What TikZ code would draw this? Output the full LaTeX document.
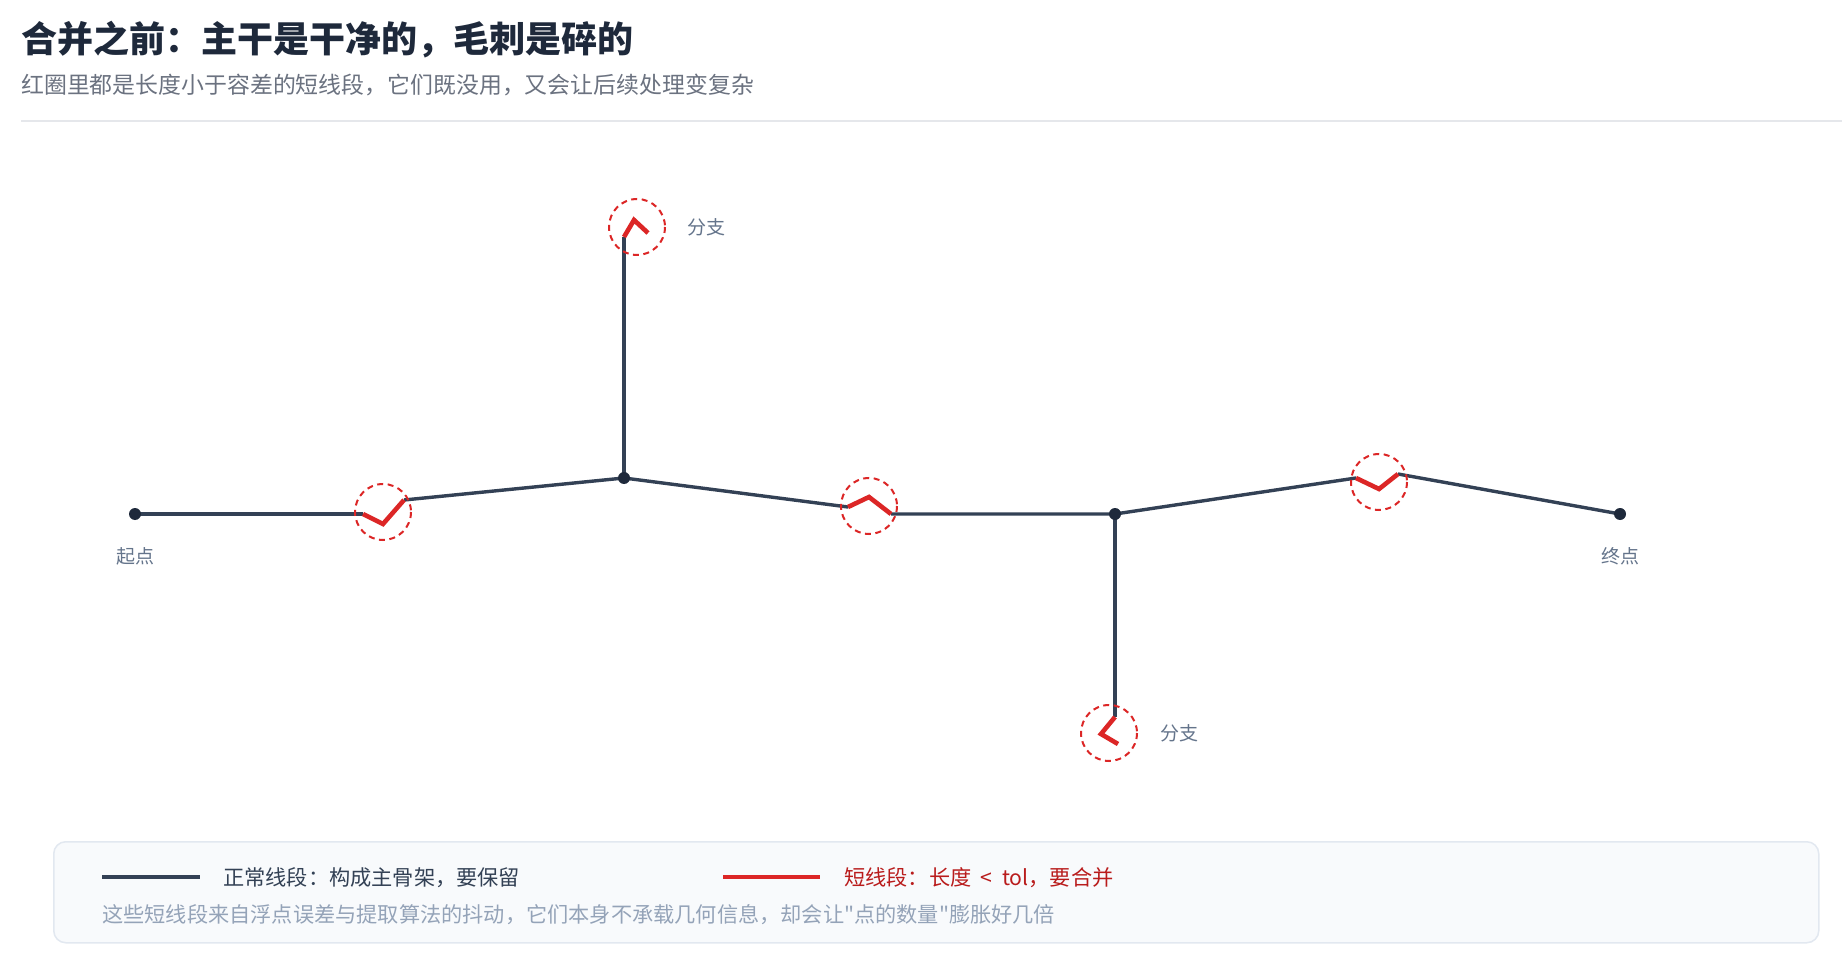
\documentclass[tikz,border=0pt]{standalone}
\usepackage{fontspec}
\setmainfont{Noto Sans CJK SC}[Ligatures=TeXOff]
\definecolor{titlec}{HTML}{1E293B}
\definecolor{subc}{HTML}{6B7280}
\definecolor{darkline}{HTML}{334155}
\definecolor{dotc}{HTML}{1E293B}
\definecolor{redc}{HTML}{DC2626}
\definecolor{labelc}{HTML}{64748B}
\definecolor{rulec}{HTML}{E5E7EB}
\definecolor{boxfill}{HTML}{F8FAFC}
\definecolor{boxdraw}{HTML}{E2E8F0}
\definecolor{legdark}{HTML}{334155}
\definecolor{legred}{HTML}{B91C1C}
\definecolor{notec}{HTML}{94A3B8}
\tikzset{
  seg/.style={draw=darkline, line width=3.4pt, line join=round},
  shortseg/.style={draw=redc, line width=4.6pt, line join=miter, line cap=butt},
  ring/.style={draw=redc, line width=2pt, dash pattern=on 6pt off 4.5pt},
  vdot/.style={circle, fill=dotc, inner sep=0pt, minimum size=12pt},
  lbl/.style={font=\fontsize{19}{22}\selectfont, text=labelc, inner sep=0pt},
  legtext/.style={anchor=west, inner sep=0pt, font=\fontsize{21.2}{24}\selectfont},
}
\begin{document}
\begin{tikzpicture}[x=1pt,y=-1pt]
\useasboundingbox (0,0) rectangle (1842,957);
\fill[white] (0,0) rectangle (1842,957);
% header
\node[anchor=west, inner sep=0pt, text=titlec, font=\fontsize{36}{40}\selectfont\bfseries] (title) at (21,40) {合并之前：主干是干净的，毛刺是碎的};
\node[anchor=west, inner sep=0pt, text=subc, font=\fontsize{22.9}{26}\selectfont] (subtitle) at (21,85) {红圈里都是长度小于容差的短线段，它们既没用，又会让后续处理变复杂};
\coordinate (r1) at (21,121);
\coordinate (r2) at (1842,121);
\draw[rulec, line width=2pt] (r1) -- (r2);
% geometry points
\coordinate (S) at (135,514);
\coordinate (a1) at (363,514); \coordinate (a2) at (383,524); \coordinate (a3) at (404,500);
\coordinate (J1) at (624,478);
\coordinate (b1) at (624,237); \coordinate (b2) at (634,220); \coordinate (b3) at (648,233);
\coordinate (c1) at (848,507); \coordinate (c2) at (869,497); \coordinate (c3) at (891,514);
\coordinate (J2) at (1115,514);
\coordinate (d1) at (1115,717); \coordinate (d2) at (1101,734); \coordinate (d3) at (1118,744);
\coordinate (e1) at (1356,478); \coordinate (e2) at (1379,489); \coordinate (e3) at (1398,474);
\coordinate (E) at (1620,514);
% normal segments
\draw[seg] (S) -- (a1);
\draw[seg] (a3) -- (J1) -- (c1);
\draw[seg] (c3) -- (J2) -- (e1);
\draw[seg] (e3) -- (E);
\draw[seg] (J1) -- (b1);
\draw[seg] (J2) -- (d1);
% short segments
\draw[shortseg] (a1) -- (a2) -- (a3);
\draw[shortseg] (b1) -- (b2) -- (b3);
\draw[shortseg] (c1) -- (c2) -- (c3);
\draw[shortseg] (d1) -- (d2) -- (d3);
\draw[shortseg] (e1) -- (e2) -- (e3);
% rings
\draw[ring] (383,512) circle[radius=28];
\draw[ring] (637,227) circle[radius=28];
\draw[ring] (869,506) circle[radius=28];
\draw[ring] (1109,733) circle[radius=28];
\draw[ring] (1379,482) circle[radius=28];
% vertices
\node[vdot] (nS) at (S) {};
\node[vdot] (nJ1) at (J1) {};
\node[vdot] (nJ2) at (J2) {};
\node[vdot] (nE) at (E) {};
% labels
\node[lbl] (lS) at (135,556) {起点};
\node[lbl] (lE) at (1620,556) {终点};
\node[lbl, anchor=west] (lb1) at (687,227) {分支};
\node[lbl, anchor=west] (lb2) at (1160,733) {分支};
% legend
\node[draw=boxdraw, fill=boxfill, line width=1.5pt, rounded corners=12pt, minimum width=1765pt, minimum height=101pt, anchor=north west, inner sep=0pt] (legend) at (53,841) {};
\coordinate (ld1) at (102,877); \coordinate (ld2) at (200,877);
\draw[darkline, line width=4pt] (ld1) -- (ld2);
\node[legtext, text=legdark] (legt1) at (223,878) {正常线段：构成主骨架，要保留};
\coordinate (lr1) at (723,877); \coordinate (lr2) at (820,877);
\draw[redc, line width=4.6pt] (lr1) -- (lr2);
\node[legtext, text=legred] (legt2) at (844,878) {短线段：长度\ \ < \ tol，要合并};
\node[legtext, text=notec] (note) at (102,915) {这些短线段来自浮点误差与提取算法的抖动，它们本身不承载几何信息，却会让"点的数量"膨胀好几倍};
\end{tikzpicture}
\end{document}
